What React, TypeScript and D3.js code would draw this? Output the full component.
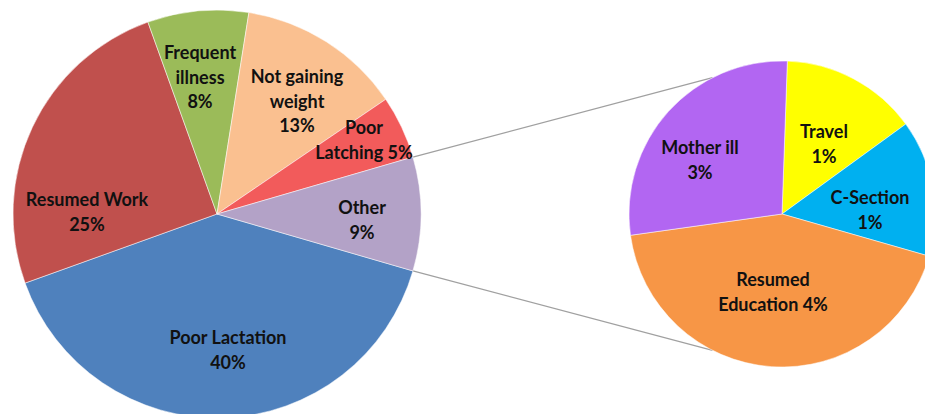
import React from "react";
import * as d3 from "d3";

// ---- Data ----
const mainCategories = ["Poor Lactation", "Resumed Work", "Frequent illness", "Not gaining weight", "Poor Latching", "Other"];
const mainValues = [40, 25, 8, 13, 5, 9];
const mainLabels = [["Poor Lactation", "40%"], ["Resumed Work", "25%"], ["Frequent", "illness", "8%"], ["Not gaining", "weight", "13%"], ["Poor", "Latching 5%"], ["Other", "9%"]];

const subCategories = ["Travel", "C-Section", "Resumed Education", "Mother ill"];
const subValues = [1.3, 1.3, 3.9, 2.5];
const subLabels = [["Travel", "1%"], ["C-Section", "1%"], ["Resumed", "Education 4%"], ["Mother ill", "3%"]];

// ---- Styles / layout ----
const mainColors = ["#4f81bd", "#c0504d", "#9bbb59", "#fac090", "#f25b5b", "#b3a2c7"];
const subColors = ["#ffff00", "#00b0f0", "#f79646", "#b266f2"];
// label anchor offsets (first line centre) relative to each pie centre
const mainLabelOffsets = [[11, 124], [-130, -14], [-17, -161], [80, -137], [147, -86], [145, -6]];
const subLabelOffsets = [[42, -82], [88, -16], [-9, 66], [-82, -66]];

const W = 925, H = 414;
const MAIN = { cx: 217, cy: 214, r: 204 };
const SUB = { cx: 782, cy: 214, r: 153 };
const LINE_H = 24.5;
const FONT = "Lato, 'Open Sans', sans-serif";

export default function App() {
  const mainTotal = d3.sum(mainValues);
  const otherFrac = mainValues[mainValues.length - 1] / mainTotal;
  const mainStart = Math.PI / 2 + otherFrac * Math.PI;
  const mainPie = d3.pie<number>().sort(null).startAngle(mainStart).endAngle(mainStart + 2 * Math.PI);
  const mainArcs = mainPie(mainValues);
  const mainArc = d3.arc<d3.PieArcDatum<number>>().innerRadius(0).outerRadius(MAIN.r);

  const subStart = (2 * Math.PI) / 180;
  const subPie = d3.pie<number>().sort(null).startAngle(subStart).endAngle(subStart + 2 * Math.PI);
  const subArcs = subPie(subValues);
  const subArc = d3.arc<d3.PieArcDatum<number>>().innerRadius(0).outerRadius(SUB.r);

  // connector lines: from Other slice edges to second pie
  const a1 = -otherFrac * Math.PI; // screen angle (from 3 o'clock)
  const a2 = otherFrac * Math.PI;
  const b1 = (-117 * Math.PI) / 180;
  const b2 = (117 * Math.PI) / 180;
  const lines = [
    [MAIN.cx + MAIN.r * Math.cos(a1), MAIN.cy + MAIN.r * Math.sin(a1), SUB.cx + SUB.r * Math.cos(b1), SUB.cy + SUB.r * Math.sin(b1)],
    [MAIN.cx + MAIN.r * Math.cos(a2), MAIN.cy + MAIN.r * Math.sin(a2), SUB.cx + SUB.r * Math.cos(b2), SUB.cy + SUB.r * Math.sin(b2)],
  ];

  const renderLabel = (linesText: string[], x: number, y: number, key: string) => (
    <text key={key} x={x} y={y} textAnchor="middle" fontFamily={FONT} fontWeight={700} fontSize={18} fill="#111">
      {linesText.map((t, i) => (
        <tspan key={i} x={x} y={y + i * LINE_H} dy="0.35em">{t}</tspan>
      ))}
    </text>
  );

  return (
    <svg width={W} height={H} style={{ position: "absolute", left: 0, top: 0, background: "#fff" }}>
      <rect width={W} height={H} fill="#fff" />
      {lines.map((l, i) => (
        <line key={i} x1={l[0]} y1={l[1]} x2={l[2]} y2={l[3]} stroke="#a0a0a0" strokeWidth={1.2} />
      ))}
      <g transform={`translate(${MAIN.cx},${MAIN.cy})`}>
        {mainArcs.map((d, i) => (
          <path key={mainCategories[i]} d={mainArc(d) || ""} fill={mainColors[i]} stroke="#ffffff" strokeOpacity={0.5} strokeWidth={1} />
        ))}
      </g>
      <g transform={`translate(${SUB.cx},${SUB.cy})`}>
        {subArcs.map((d, i) => (
          <path key={subCategories[i]} d={subArc(d) || ""} fill={subColors[i]} stroke="#ffffff" strokeOpacity={0.5} strokeWidth={1} />
        ))}
      </g>
      {mainLabels.map((lt, i) => renderLabel(lt, MAIN.cx + mainLabelOffsets[i][0], MAIN.cy + mainLabelOffsets[i][1], "m" + i))}
      {subLabels.map((lt, i) => renderLabel(lt, SUB.cx + subLabelOffsets[i][0], SUB.cy + subLabelOffsets[i][1], "s" + i))}
    </svg>
  );
}
